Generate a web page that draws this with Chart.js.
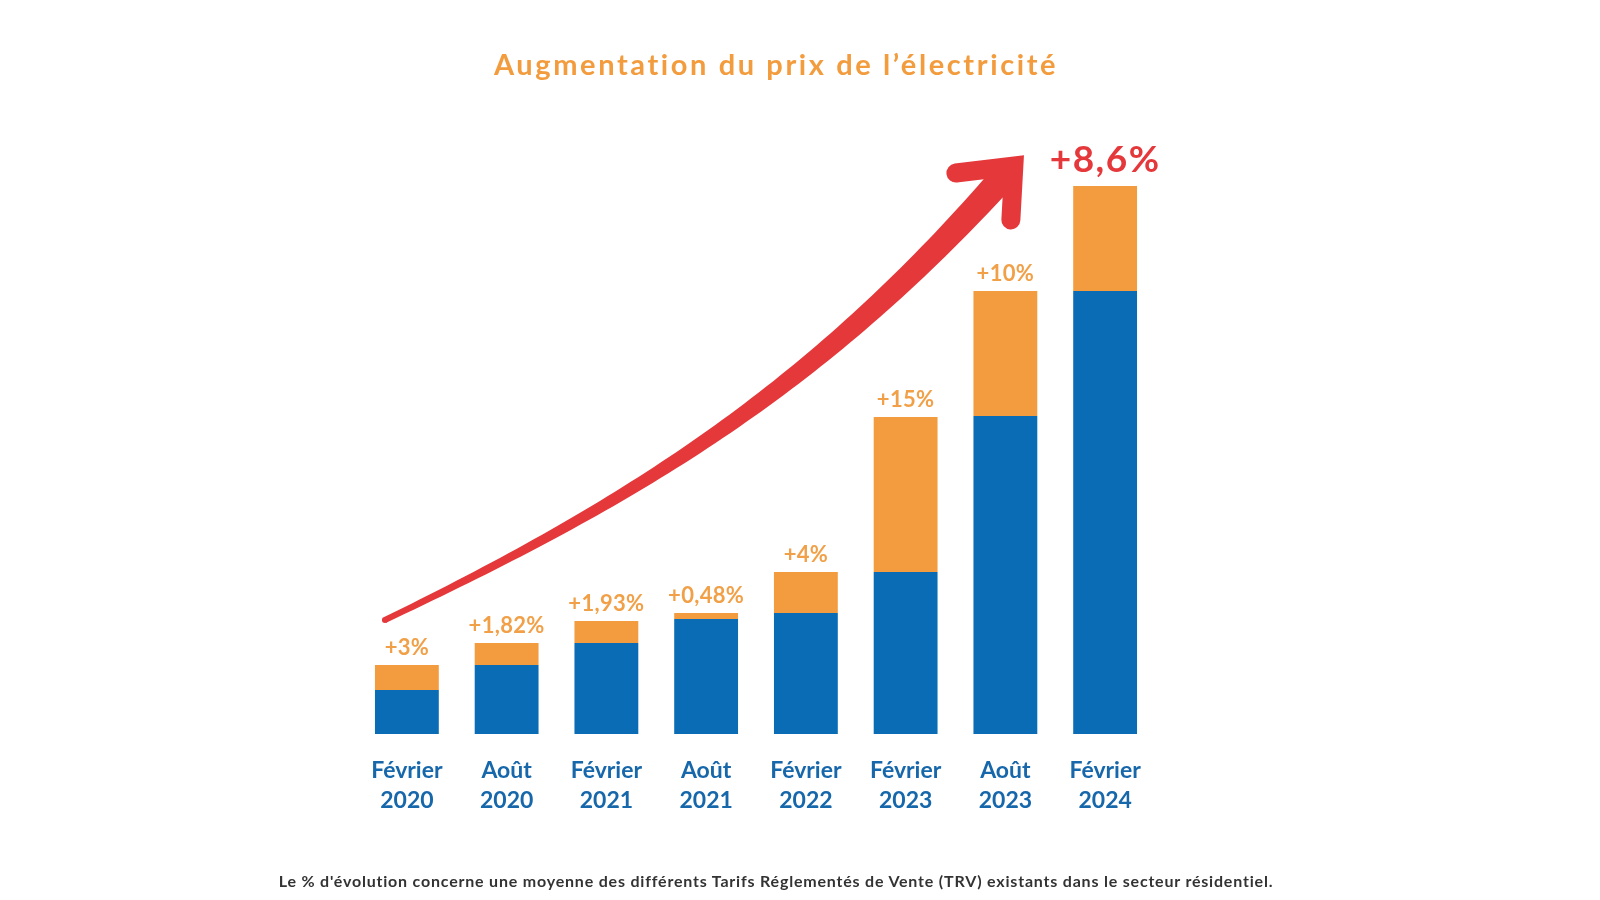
<!DOCTYPE html>
<html lang="fr">
<head>
<meta charset="utf-8">
<title>Augmentation du prix de l'électricité</title>
<script src="https://cdn.jsdelivr.net/npm/chart.js@4.4.1/dist/chart.umd.min.js"></script>
<style>
  html, body { margin: 0; padding: 0; background: #ffffff; }
  #wrap { position: relative; width: 1600px; height: 900px; overflow: hidden; }
  #title {
    position: absolute; left: 0; top: 46px; width: 1552px;
    text-align: center; line-height: 1;
    font: 700 29px Lato, sans-serif; color: #f39c3e;
    letter-spacing: 2.6px;
  }
  #note {
    position: absolute; left: 0; top: 871px; width: 1552px;
    text-align: center; line-height: 1;
    font: 700 16px Lato, sans-serif; color: #333333;
    letter-spacing: 0.8px;
  }
  canvas { position: absolute; left: 0; top: 0; }
</style>
</head>
<body>
<div id="wrap">
  <canvas id="priceChart" width="1600" height="900"></canvas>
  <div id="title">Augmentation du prix de l’électricité</div>
  <div id="note">Le % d'évolution concerne une moyenne des différents Tarifs Réglementés de Vente (TRV) existants dans le secteur résidentiel.</div>
</div>

<script>
// Periods (two-line tick labels)
const periods = [
    ['Février', '2020'], ['Août', '2020'], ['Février', '2021'], ['Août', '2021'],
    ['Février', '2022'], ['Février', '2023'], ['Août', '2023'], ['Février', '2024']
];

// Height of the previous price level (blue) and of the increase (orange)
const baseValues = [44, 69, 91, 115, 121, 162, 318, 443];
const increaseValues = [25, 22, 22, 6, 41, 155, 125, 105];

// Increase labels shown above each bar
const increaseLabels = ['+3%', '+1,82%', '+1,93%', '+0,48%', '+4%', '+15%', '+10%', '+8,6%'];

const BLUE = '#0a6cb4';
const ORANGE = '#f39c3f';
const RED = '#e5383b';
const FONT = 'Lato, sans-serif';

// Labels on top of the stacked bars
const topLabels = {
    id: 'topLabels',
    afterDatasetsDraw(chart) {
        const ctx = chart.ctx;
        const meta = chart.getDatasetMeta(1);
        ctx.save();
        ctx.textAlign = 'center';
        ctx.textBaseline = 'middle';
        meta.data.forEach((bar, i) => {
            const last = i === increaseLabels.length - 1;
            ctx.fillStyle = last ? RED : '#f1a048';
            ctx.font = last ? '700 37px ' + FONT : '700 22px ' + FONT;
            ctx.letterSpacing = last ? '1.5px' : '0.3px';
            ctx.fillText(increaseLabels[i], bar.x, bar.y - (last ? 26 : 17));
        });
        ctx.restore();
    }
};

// Curved red arrow, placed in (category index, value) units
const trendArrow = {
    id: 'trendArrow',
    afterDatasetsDraw(chart) {
        const x = chart.scales.x, y = chart.scales.y;
        const p = (i, v) => [x.getPixelForValue(i), y.getPixelForValue(v)];
        const P0 = p(-0.22, 114), P1 = p(2.286, 234), P2 = p(4.12, 347), P3 = p(6.025, 562);
        const bez = (t, k) => {
            const u = 1 - t;
            return u * u * u * P0[k] + 3 * u * u * t * P1[k] + 3 * u * t * t * P2[k] + t * t * t * P3[k];
        };
        const der = (t, k) => {
            const u = 1 - t;
            return 3 * u * u * (P1[k] - P0[k]) + 6 * u * t * (P2[k] - P1[k]) + 3 * t * t * (P3[k] - P2[k]);
        };
        const left = [], right = [];
        const n = 80;
        for (let s = 0; s <= n; s++) {
            const t = s / n;
            const px = bez(t, 0), py = bez(t, 1);
            const dx = der(t, 0), dy = der(t, 1);
            const len = Math.hypot(dx, dy);
            const nx = -dy / len, ny = dx / len;
            const w = (6 + 21 * Math.pow(t, 1.2)) / 2;
            left.push([px + nx * w, py + ny * w]);
            right.push([px - nx * w, py - ny * w]);
        }
        const ctx = chart.ctx;
        ctx.save();
        ctx.fillStyle = RED;
        ctx.strokeStyle = RED;
        ctx.beginPath();
        ctx.moveTo(left[0][0], left[0][1]);
        left.forEach(pt => ctx.lineTo(pt[0], pt[1]));
        for (let s = right.length - 1; s >= 0; s--) ctx.lineTo(right[s][0], right[s][1]);
        ctx.closePath();
        ctx.fill();
        ctx.beginPath();
        ctx.arc(P0[0], P0[1], 3, 0, Math.PI * 2);
        ctx.fill();

        // arrow head
        const a1 = p(5.504, 561), corner = p(6.085, 568), a2 = p(6.055, 514);
        ctx.lineWidth = 19;
        ctx.lineCap = 'round';
        ctx.lineJoin = 'miter';
        ctx.beginPath();
        ctx.moveTo(a1[0], a1[1]);
        ctx.lineTo(corner[0], corner[1]);
        ctx.lineTo(a2[0], a2[1]);
        ctx.stroke();
        ctx.restore();
    }
};

const ctx = document.getElementById('priceChart').getContext('2d');
const priceChart = new Chart(ctx, {
    type: 'bar',
    data: {
        labels: periods,
        datasets: [
            {
                label: 'Prix précédent',
                data: baseValues,
                backgroundColor: BLUE,
                borderWidth: 0,
                categoryPercentage: 1,
                barPercentage: 0.64
            },
            {
                label: 'Augmentation',
                data: increaseValues,
                backgroundColor: ORANGE,
                borderWidth: 0,
                categoryPercentage: 1,
                barPercentage: 0.64
            }
        ]
    },
    options: {
        responsive: false,
        animation: false,
        layout: { padding: { left: 357, right: 445, top: 134, bottom: 0 } },
        plugins: {
            legend: { display: false },
            tooltip: { enabled: false }
        },
        scales: {
            x: {
                stacked: true,
                grid: { display: false, drawTicks: false },
                border: { display: false },
                ticks: {
                    color: '#1767ab',
                    font: { family: FONT, size: 23, weight: 'bold', lineHeight: 1.3 },
                    padding: 22,
                    maxRotation: 0,
                    autoSkip: false
                },
                afterFit(scale) { scale.height = 166; }
            },
            y: {
                stacked: true,
                display: false,
                min: 0,
                max: 600
            }
        }
    },
    plugins: [trendArrow, topLabels]
});
</script>
</body>
</html>
